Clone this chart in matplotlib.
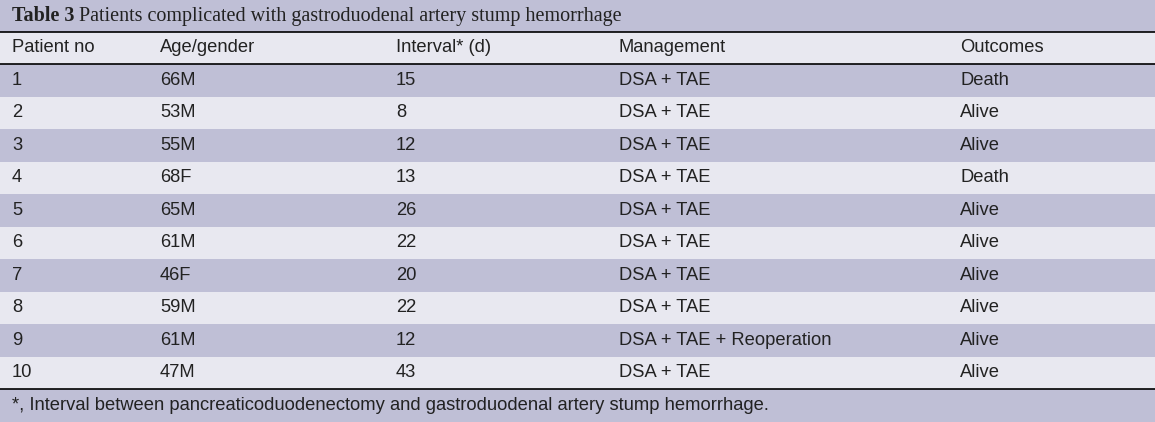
import matplotlib
matplotlib.use("Agg")
import matplotlib.pyplot as plt
from matplotlib.patches import Rectangle

title_bold = "Table 3"
title_rest = " Patients complicated with gastroduodenal artery stump hemorrhage"
headers = ["Patient no", "Age/gender", "Interval* (d)", "Management", "Outcomes"]
patient_no = ["1", "2", "3", "4", "5", "6", "7", "8", "9", "10"]
age_gender = ["66M", "53M", "55M", "68F", "65M", "61M", "46F", "59M", "61M", "47M"]
interval = ["15", "8", "12", "13", "26", "22", "20", "22", "12", "43"]
management = ["DSA + TAE"] * 8 + ["DSA + TAE + Reoperation", "DSA + TAE"]
outcomes = ["Death", "Alive", "Alive", "Death", "Alive", "Alive", "Alive", "Alive", "Alive", "Alive"]
footnote = "*, Interval between pancreaticoduodenectomy and gastroduodenal artery stump hemorrhage."

W, H = 1155, 422
fig = plt.figure(figsize=(W / 100, H / 100), dpi=100)
ax = fig.add_axes([0, 0, 1, 1])
ax.set_xlim(0, W)
ax.set_ylim(H, 0)
ax.axis("off")

dark = "#bfbfd6"
light = "#e8e8f0"
col_x = [12, 160, 396, 619, 960]
fs = 13.25

def band(y0, y1, c):
    ax.add_patch(Rectangle((0, y0), W, y1 - y0, color=c, lw=0))

band(0, 32, dark)
band(32, 64, light)
row_h = 32.5
for i in range(10):
    y0 = 64 + i * row_h
    band(y0, y0 + row_h, dark if i % 2 == 0 else light)
    yc = y0 + row_h / 2
    for x, v in zip(col_x, [patient_no[i], age_gender[i], interval[i], management[i], outcomes[i]]):
        ax.text(x, yc, v, fontsize=fs, va="center", ha="left", color="#222222", family="Liberation Sans")
band(389, H, dark)
for x, h in zip(col_x, headers):
    ax.text(x, 48, h, fontsize=fs, va="center", ha="left", color="#222222", family="Liberation Sans")
ax.text(12, 405.5, footnote, fontsize=fs, va="center", ha="left", color="#222222", family="Liberation Sans")

t = ax.text(12, 16, title_bold, fontsize=14.5, va="center", ha="left", weight="bold", family="Liberation Serif", color="#222222")
fig.canvas.draw()
bb = t.get_window_extent()
ax.text(12 + bb.width, 16, title_rest, fontsize=14.5, va="center", ha="left", family="Liberation Serif", color="#222222")

for y in [32, 64, 389]:
    ax.plot([0, W], [y, y], color="black", lw=1.2)

fig.savefig("out.png", dpi=100)
